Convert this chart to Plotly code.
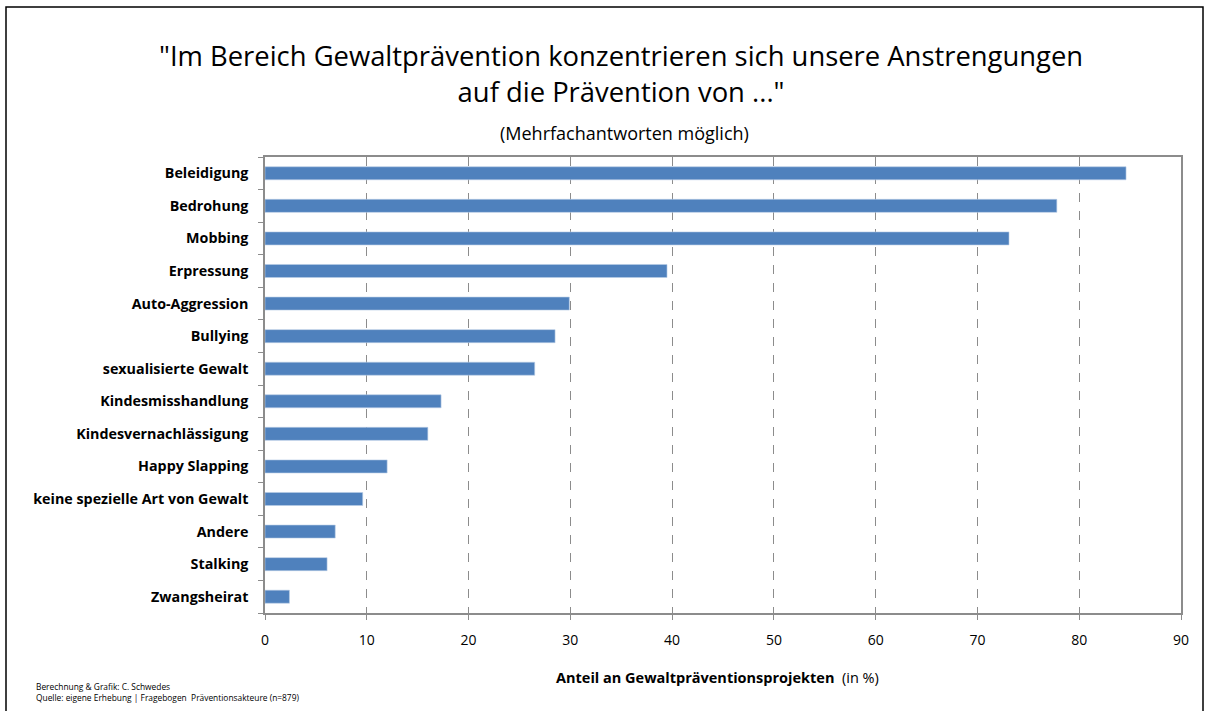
import plotly.graph_objects as go

# Data, top to bottom
categories = [
    "Beleidigung", "Bedrohung", "Mobbing", "Erpressung", "Auto-Aggression",
    "Bullying", "sexualisierte Gewalt", "Kindesmisshandlung",
    "Kindesvernachlässigung", "Happy Slapping", "keine spezielle Art von Gewalt",
    "Andere", "Stalking", "Zwangsheirat",
]
values = [84.6, 77.8, 73.1, 39.5, 29.9, 28.5, 26.5, 17.3, 16.0, 12.0, 9.6, 6.9, 6.1, 2.4]
x_ticks = [0, 10, 20, 30, 40, 50, 60, 70, 80, 90]

W, H = 1205, 711
L, R, T, B = 265, 24, 157, 98
PW, PH = W - L - R, H - T - B

FONT = "Open Sans, Liberation Sans, sans-serif"
BAR = "#4f81bd"
GRID = "#8c8c8c"


def px(xp):
    return (xp - L) / PW


def py(yp):
    return (H - B - yp) / PH


fig = go.Figure(
    go.Bar(
        x=values,
        y=categories,
        orientation="h",
        width=0.4,
        marker=dict(color=BAR, line=dict(color="#b9cde5", width=0.6)),
        hovertemplate="%{y}: %{x:.1f} %<extra></extra>",
    )
)

fig.update_layout(
    width=W,
    height=H,
    margin=dict(l=L, r=R, t=T, b=B, pad=0),
    paper_bgcolor="white",
    plot_bgcolor="white",
    showlegend=False,
    font=dict(family=FONT, color="black"),
    xaxis=dict(
        range=[0, 90],
        tickvals=x_ticks,
        ticks="outside",
        ticklen=5,
        tickcolor=GRID,
        tickfont=dict(size=14),
        ticklabelstandoff=8,
        showgrid=True,
        gridcolor=GRID,
        griddash="dash",
        gridwidth=1,
        zeroline=False,
        showline=True,
        linecolor=GRID,
        linewidth=1.5,
        mirror=True,
        fixedrange=True,
    ),
    yaxis=dict(
        categoryorder="array",
        categoryarray=categories[::-1],
        tickfont=dict(size=14.3),
        ticks="outside",
        ticklen=5,
        tickcolor=GRID,
        tickson="boundaries",
        ticklabelstandoff=12,
        showline=True,
        linecolor=GRID,
        linewidth=1.5,
        mirror=True,
        showgrid=False,
        fixedrange=True,
    ),
    bargap=0.6,
)

# bold category labels
fig.update_yaxes(ticktext=[f"<b>{c}</b>" for c in categories[::-1]], tickvals=categories[::-1])

annotations = [
    dict(
        text='"Im Bereich Gewaltprävention konzentrieren sich unsere Anstrengungen<br>auf die Prävention von ..."',
        x=px(621), y=py(74), xanchor="center", yanchor="middle",
        font=dict(size=27.4, family=FONT), showarrow=False, align="center",
    ),
    dict(
        text="(Mehrfachantworten möglich)",
        x=px(624), y=py(133), xanchor="center", yanchor="middle",
        font=dict(size=18, family=FONT), showarrow=False,
    ),
    dict(
        text="<b>Anteil an Gewaltpräventionsprojekten</b>  (in %)",
        x=px(717), y=py(677), xanchor="center", yanchor="middle",
        font=dict(size=14.5, family=FONT), showarrow=False,
    ),
    dict(
        text="Berechnung & Grafik: C. Schwedes<br>Quelle: eigene Erhebung | Fragebogen  Präventionsakteure (n=879)",
        x=px(34), y=py(692), xanchor="left", yanchor="middle",
        font=dict(size=8.4, family=FONT), showarrow=False, align="left",
    ),
]
for a in annotations:
    a.update(xref="paper", yref="paper")
fig.update_layout(annotations=annotations)

# outer chart frame
fig.add_shape(
    type="rect", xref="paper", yref="paper",
    x0=px(6), x1=px(1203), y0=py(720), y1=py(7),
    line=dict(color="black", width=1.5), fillcolor="rgba(0,0,0,0)", layer="below",
)

fig.write_html(
    "out.html",
    config=dict(displayModeBar=False),
    post_script="document.body.style.margin='0';document.body.style.overflow='hidden';",
)
